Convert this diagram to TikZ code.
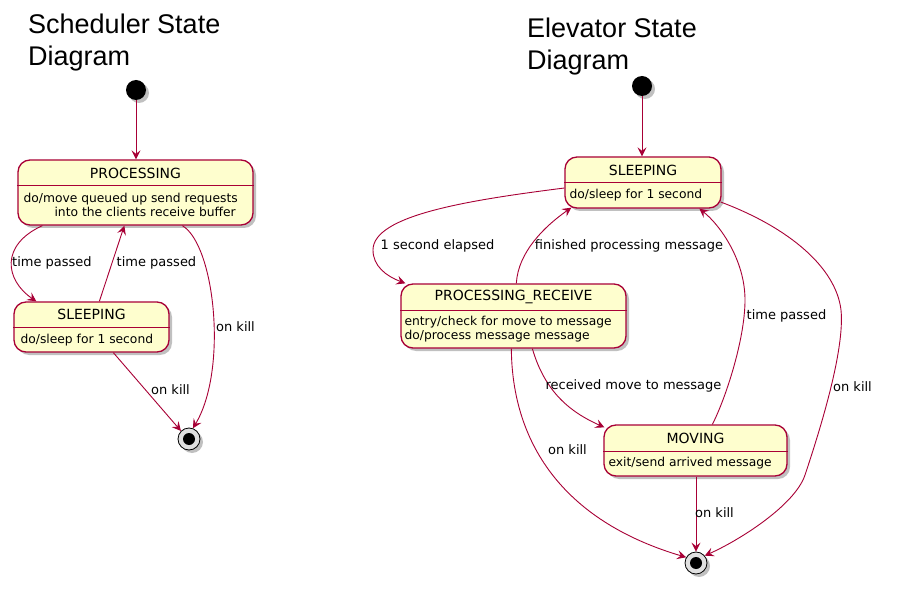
\documentclass[tikz,border=0pt]{standalone}
\usepackage{fontspec}
\newfontfamily\dv{DejaVu Sans}
\newfontfamily\lib{Liberation Sans}
\usetikzlibrary{arrows.meta,shadows,calc}
\definecolor{umlred}{HTML}{A80036}
\definecolor{umlfill}{HTML}{FEFECE}
\begin{document}
\begin{tikzpicture}[x=1pt,y=-1pt,
  shade/.style={drop shadow={shadow xshift=3pt,shadow yshift=-3pt,opacity=0.35,fill=black!70}},
  statebox/.style={draw=umlred,fill=umlfill,line width=1.3pt,rounded corners=12pt,inner sep=0pt,shade},
  divider/.style={draw=umlred,line width=1.3pt},
  stitle/.style={font=\dv\fontsize{14}{16}\selectfont,inner sep=0pt},
  sbody/.style={font=\dv\fontsize{12.3}{14}\selectfont,inner sep=0pt,align=left,anchor=west},
  lbl/.style={font=\dv\fontsize{13}{15}\selectfont,inner sep=0pt},
  dtitle/.style={font=\lib\fontsize{27}{32}\selectfont,inner sep=0pt,align=left,anchor=north west},
  initst/.style={circle,fill=black,minimum size=20pt,inner sep=0pt,shade},
  finalst/.style={circle,draw=black,fill=black!12,line width=0.8pt,minimum size=22pt,inner sep=0pt,shade},
  finalin/.style={circle,fill=black,minimum size=12pt,inner sep=0pt},
  tr/.style={draw=umlred,line width=0.9pt,-{Stealth[length=9pt,width=9pt,inset=3.5pt]}}
]
\useasboundingbox (0,0) rectangle (905,596);
\fill[white] (0,0) rectangle (905,596);

% ---------- Scheduler ----------
\node[dtitle] (t1) at (28,14) {Scheduler State\\Diagram};
\node[initst] (init1) at (136,90) {};

\node[statebox,minimum width=235pt,minimum height=65pt] (proc) at (135.5,192.5) {};
\draw[divider] ($(proc.north west)+(0,26)$) -- ($(proc.north east)+(0,26)$);
\node[stitle] (procT) at ($(proc.north)+(0,14)$) {PROCESSING};
\node[sbody] (procB) at ($(proc.north west)+(6,45.5)$) {do/move queued up send requests\\\hspace*{31pt}into the clients receive buffer};

\node[statebox,minimum width=155pt,minimum height=50pt] (sleep1) at (91.5,327) {};
\draw[divider] ($(sleep1.north west)+(0,26)$) -- ($(sleep1.north east)+(0,26)$);
\node[stitle] (sleep1T) at ($(sleep1.north)+(0,13)$) {SLEEPING};
\node[sbody] (sleep1B) at ($(sleep1.north west)+(7,38.5)$) {do/sleep for 1 second};

\node[finalst] (final1) at (189,439) {};
\node[finalin] (final1i) at (final1) {};

\draw[tr] (init1) -- (proc.north -| init1);
\draw[tr] ($(proc.south west)+(25,0)$) .. controls (0,245) and (5,280) .. ($(sleep1.north west)+(23,0)$);
\draw[tr] ($(sleep1.north west)+(86,0)$) -- ($(proc.south west)+(107,0)$);
\draw[tr] ($(proc.south west)+(165,0)$) .. controls (215,245) and (228,370) .. (final1.70);
\draw[tr] ($(sleep1.south west)+(100,0)$) -- (final1.135);

\node[lbl] (l1) at (52,263) {time passed};
\node[lbl] (l2) at (156.5,263) {time passed};
\node[lbl] (l3) at (235.5,327) {on kill};
\node[lbl] (l4) at (170.5,390) {on kill};

% ---------- Elevator ----------
\node[dtitle] (t2) at (527,18) {Elevator State\\Diagram};
\node[initst] (init2) at (642,86) {};

\node[statebox,minimum width=156pt,minimum height=51pt] (sleep2) at (643,182.5) {};
\draw[divider] ($(sleep2.north west)+(0,26)$) -- ($(sleep2.north east)+(0,26)$);
\node[stitle] (sleep2T) at ($(sleep2.north)+(0,14)$) {SLEEPING};
\node[sbody] (sleep2B) at ($(sleep2.north west)+(5,38.5)$) {do/sleep for 1 second};

\node[statebox,minimum width=225pt,minimum height=64pt] (recv) at (513.5,316) {};
\draw[divider] ($(recv.north west)+(0,27)$) -- ($(recv.north east)+(0,27)$);
\node[stitle] (recvT) at ($(recv.north)+(0,14)$) {PROCESSING\_RECEIVE};
\node[sbody] (recvB) at ($(recv.north west)+(4,46)$) {entry/check for move to message\\do/process message message};

\node[statebox,minimum width=183pt,minimum height=51pt] (mov) at (695.5,450.5) {};
\draw[divider] ($(mov.north west)+(0,27)$) -- ($(mov.north east)+(0,27)$);
\node[stitle] (movT) at ($(mov.north)+(0,14)$) {MOVING};
\node[sbody] (movB) at ($(mov.north west)+(5,39)$) {exit/send arrived message};

\node[finalst] (final2) at (696,563) {};
\node[finalin] (final2i) at (final2) {};

\coordinate (r1m) at (373,250);
\coordinate (r3a) at (841,310);
\coordinate (r3b) at (805,475);
\coordinate (r4m) at (745,300);

\draw[tr] (init2) -- (sleep2.north -| init2);
\draw[tr] ($(sleep2.west)+(0,5.5)$) .. controls (470,200) and (373,215) .. (r1m) .. controls (373,266) and (386,276) .. ($(recv.north west)+(5,0)$);
\draw[tr] ($(recv.north west)+(116,0)$) .. controls (518,252) and (545,226) .. ($(sleep2.south west)+(7,-1)$);
\draw[tr] ($(sleep2.east)+(-1,19.5)$) .. controls (790,228) and (836,268) .. (r3a) .. controls (845,350) and (820,430) .. (r3b) .. controls (795,505) and (740,540) .. (final2.40);
\draw[tr] ($(mov.north west)+(109,0)$) .. controls (725,400) and (745,340) .. (r4m) .. controls (745,260) and (720,225) .. ($(sleep2.south west)+(135,0)$);
\draw[tr] ($(recv.south west)+(132,0)$) .. controls (545,392) and (570,412) .. ($(mov.north west)+(1,3)$);
\draw[tr] ($(recv.south west)+(111,0)$) .. controls (512,440) and (560,520) .. (final2.150);
\draw[tr] (mov.south -| final2) -- (final2.north);

\node[lbl] (m1) at (437.5,246) {1 second elapsed};
\node[lbl] (m2) at (629,246) {finished processing message};
\node[lbl] (m3) at (786.5,316) {time passed};
\node[lbl] (m4) at (852.5,387) {on kill};
\node[lbl] (m5) at (633.5,386) {received move to message};
\node[lbl] (m6) at (567.5,450) {on kill};
\node[lbl] (m7) at (714.5,513) {on kill};
\end{tikzpicture}
\end{document}
